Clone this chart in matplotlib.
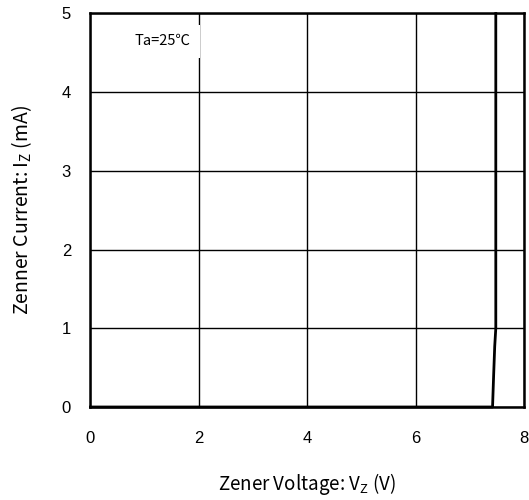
import numpy as np
import matplotlib
matplotlib.use("Agg")
import matplotlib.pyplot as plt

# Zener I-V curve
vz = [0.0, 3.0, 7.42, 7.44, 7.46, 7.48, 7.48]
iz = [0.0, 0.0, 0.0, 0.40, 0.77, 1.00, 5.00]

xticks = [0, 2, 4, 6, 8]
yticks = [0, 1, 2, 3, 4, 5]

plt.rcParams['font.family'] = ['Liberation Sans', 'DejaVu Sans']

fig = plt.figure(figsize=(5.29, 5.0), dpi=100)
ax = fig.add_axes([0.171, 0.186, 0.8195, 0.787])

ax.plot(vz, iz, color='black', linewidth=2, clip_on=False, zorder=3)

ax.set_xlim(0, 8)
ax.set_ylim(0, 5)
ax.set_xticks(xticks)
ax.set_yticks(yticks)
ax.grid(True, color='black', linewidth=1)
ax.tick_params(axis='x', length=0, pad=17, labelsize=12)
ax.tick_params(axis='y', length=0, pad=14, labelsize=12)
for s in ax.spines.values():
    s.set_linewidth(1.8)

cjk = ['Noto Sans CJK JP', 'DejaVu Sans']
ax.set_xlabel(r'Zener Voltage: V$_\mathregular{Z}$ (V)', fontsize=13.5, family=cjk, labelpad=18)
ax.set_ylabel(r'Zenner Current: I$_\mathregular{Z}$ (mA)', fontsize=14, family=cjk, labelpad=20)

ax.text(0.82, 4.65, 'Ta=25℃', fontsize=10.5, family=cjk, va='center', ha='left',
        bbox=dict(boxstyle='square,pad=0.65', facecolor='white', edgecolor='none'), zorder=4)

fig.savefig('out.png', dpi=100)
